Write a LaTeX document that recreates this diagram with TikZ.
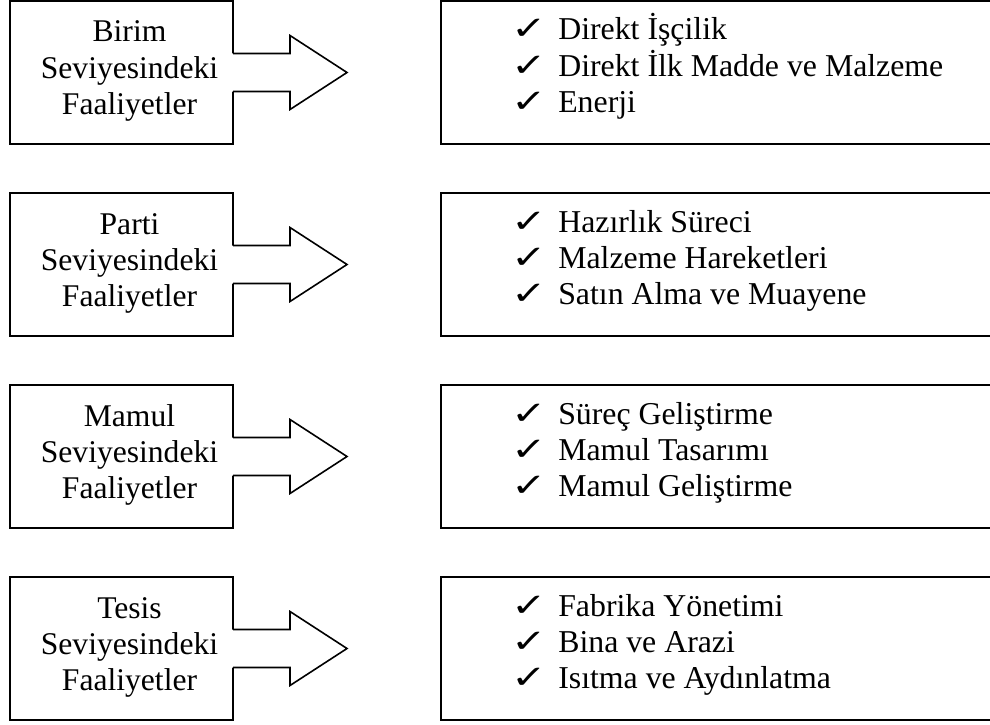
\documentclass[tikz,border=0pt]{standalone}
\usepackage{fontspec}
\setmainfont{Liberation Serif}
\newfontfamily\symfont{DejaVu Sans}
\begin{document}
\begin{tikzpicture}[x=1pt,y=-1pt,line width=1.6pt,line join=miter]
\tikzset{
  levelbox/.style={draw,minimum width=223pt,minimum height=143pt,inner sep=0pt,outer sep=0pt},
  listbox/.style={draw,minimum width=580pt,minimum height=143pt,inner sep=0pt,outer sep=0pt,anchor=north west},
  label/.style={anchor=base,inner sep=0pt,font=\fontsize{31.6}{36}\selectfont},
  item/.style={anchor=base west,inner sep=0pt,font=\fontsize{31.8}{36}\selectfont},
  tick/.style={anchor=base west,inner sep=0pt,font=\symfont\fontsize{34}{34}\selectfont},
}
\clip (0,0) rectangle (990,725);
\foreach \r/\kind/\a/\b/\c in {
  1/Birim/Direkt İşçilik/Direkt İlk Madde ve Malzeme/Enerji,
  2/Parti/Hazırlık Süreci/Malzeme Hareketleri/Satın Alma ve Muayene,
  3/Mamul/Süreç Geliştirme/Mamul Tasarımı/Mamul Geliştirme,
  4/Tesis/Fabrika Yönetimi/Bina ve Arazi/Isıtma ve Aydınlatma}{
  \pgfmathsetmacro{\top}{1+192*(\r-1)}
  % level box on the left
  \node[levelbox] (L\r) at (121.5,\top+71.5) {};
  \node[label] (K\r) at (129.5,\top+41) {\kind};
  \node[label] (S\r) at (129.5,\top+77) {Seviyesindeki};
  \node[label] (F\r) at (129.5,\top+113.5) {Faaliyetler};
  % block arrow joined to the box
  \path[fill=white] (L\r.east) ++(-1.2,-19) -- ++(58.2,0) -- ++(0,-18) -- ++(57,37)
     -- ++(-57,37) -- ++(0,-18) -- ++(-58.2,0) -- cycle;
  \draw (L\r.east) ++(0,-19) -- ++(57,0) -- ++(0,-18) -- ++(57,37)
     -- ++(-57,37) -- ++(0,-18) -- ++(-57,0);
  % list box on the right
  \node[listbox] (R\r) at (441,\top) {};
  \foreach \i/\t in {1/\a,2/\b,3/\c}{
    \node[tick] (T\r\i) at (511,\top+3+36*\i) {\scalebox{1.25}[0.95]{✓}};
    \node[item] (I\r\i) at (557.5,\top+3+36*\i) {\t};
  }
}
\end{tikzpicture}
\end{document}
